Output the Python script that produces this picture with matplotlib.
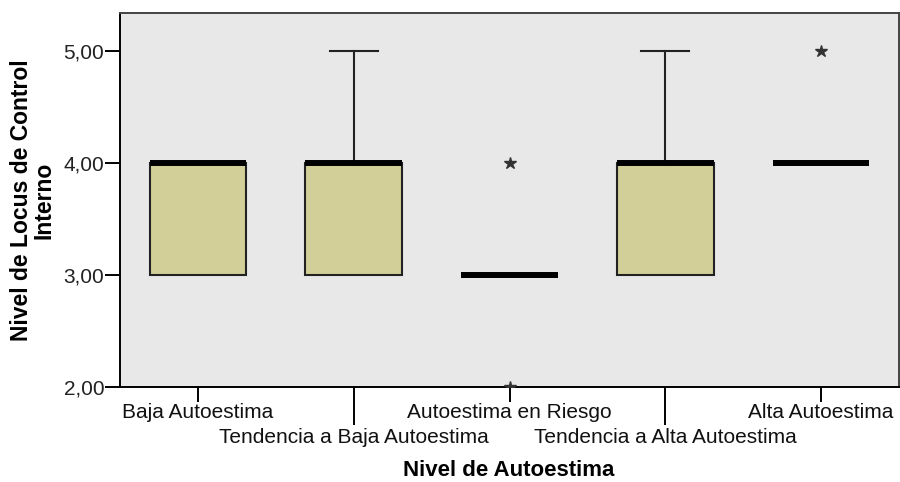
import matplotlib
matplotlib.use("Agg")
import matplotlib.pyplot as plt

# categories and box stats
categorias = ["Baja Autoestima", "Tendencia a Baja Autoestima", "Autoestima en Riesgo",
              "Tendencia a Alta Autoestima", "Alta Autoestima"]
q1 = [3, 3, 3, 3, 4]
mediana = [4, 4, 3, 4, 4]
q3 = [4, 4, 3, 4, 4]
bigote_inf = [3, 3, 3, 3, 4]
bigote_sup = [4, 5, 3, 5, 4]
extremos = [[], [], [4, 2], [], [5]]
yticks = [2, 3, 4, 5]

plt.rcParams['font.family'] = ['Liberation Sans', 'DejaVu Sans']

fig = plt.figure(figsize=(9, 4.82), dpi=100)
ax = fig.add_axes([120/900, 1-387/482, 779/900, 374/482])
ax.set_facecolor('#E8E8E8')

stats = []
for i in range(len(categorias)):
    stats.append(dict(q1=q1[i], med=mediana[i], q3=q3[i],
                      whislo=bigote_inf[i], whishi=bigote_sup[i], fliers=[]))

pos = list(range(1, len(categorias) + 1))
bp = ax.bxp(stats, positions=pos, widths=0.62, patch_artist=True, showfliers=False,
            boxprops=dict(facecolor='#D3CF98', edgecolor='#222222', linewidth=1.5),
            medianprops=dict(color='black', linewidth=4.3, solid_capstyle='butt'),
            whiskerprops=dict(color='#222222', linewidth=1.5),
            capprops=dict(color='#222222', linewidth=1.5), capwidths=0.31)

# SPSS draws no cap / box outline where the whisker or box is collapsed
for i in range(len(categorias)):
    if bigote_inf[i] == q1[i]:
        bp['caps'][2*i].set_visible(False)
        bp['whiskers'][2*i].set_visible(False)
    if bigote_sup[i] == q3[i]:
        bp['caps'][2*i+1].set_visible(False)
        bp['whiskers'][2*i+1].set_visible(False)
    if q1[i] == q3[i]:
        bp['boxes'][i].set_visible(False)

for i, vals in enumerate(extremos):
    if vals:
        ax.plot([pos[i]]*len(vals), vals, linestyle='none', marker='*', markersize=9,
                color='#333333', clip_on=True, zorder=5)

ax.set_xlim(0.5, len(categorias) + 0.5)
ax.set_ylim(2, 5.34)
ax.set_yticks(yticks)
ax.set_yticklabels([f"{v:.2f}".replace('.', ',') for v in yticks], fontsize=15, color='#222222')
ax.tick_params(axis='y', length=10.8, width=1.4, pad=0.5)

ax.set_xticks(pos[0::2])
ax.set_xticklabels(categorias[0::2], fontsize=15, color='#111111')
ax.set_xticks(pos[1::2], minor=True)
ax.set_xticklabels(categorias[1::2], minor=True, fontsize=15, color='#111111')
ax.tick_params(axis='x', which='major', length=10.8, width=1.4, pad=1)
ax.tick_params(axis='x', which='minor', length=27.4, width=1.4, pad=2)

for s in ['left', 'bottom']:
    ax.spines[s].set_linewidth(1.4)
    ax.spines[s].set_color('black')
for s in ['top', 'right']:
    ax.spines[s].set_linewidth(1.4)
    ax.spines[s].set_color('#444444')

fig.text(509/900, 1-470/482, "Nivel de Autoestima", fontsize=16, fontweight='bold',
         ha='center', va='center')
fig.text(33/900, 1-200/482, "Nivel de Locus de Control\nInterno", fontsize=16.5,
         fontweight='bold', ha='center', va='center', rotation=90,
         multialignment='center', linespacing=1.0)

fig.savefig("out.png", dpi=100)
